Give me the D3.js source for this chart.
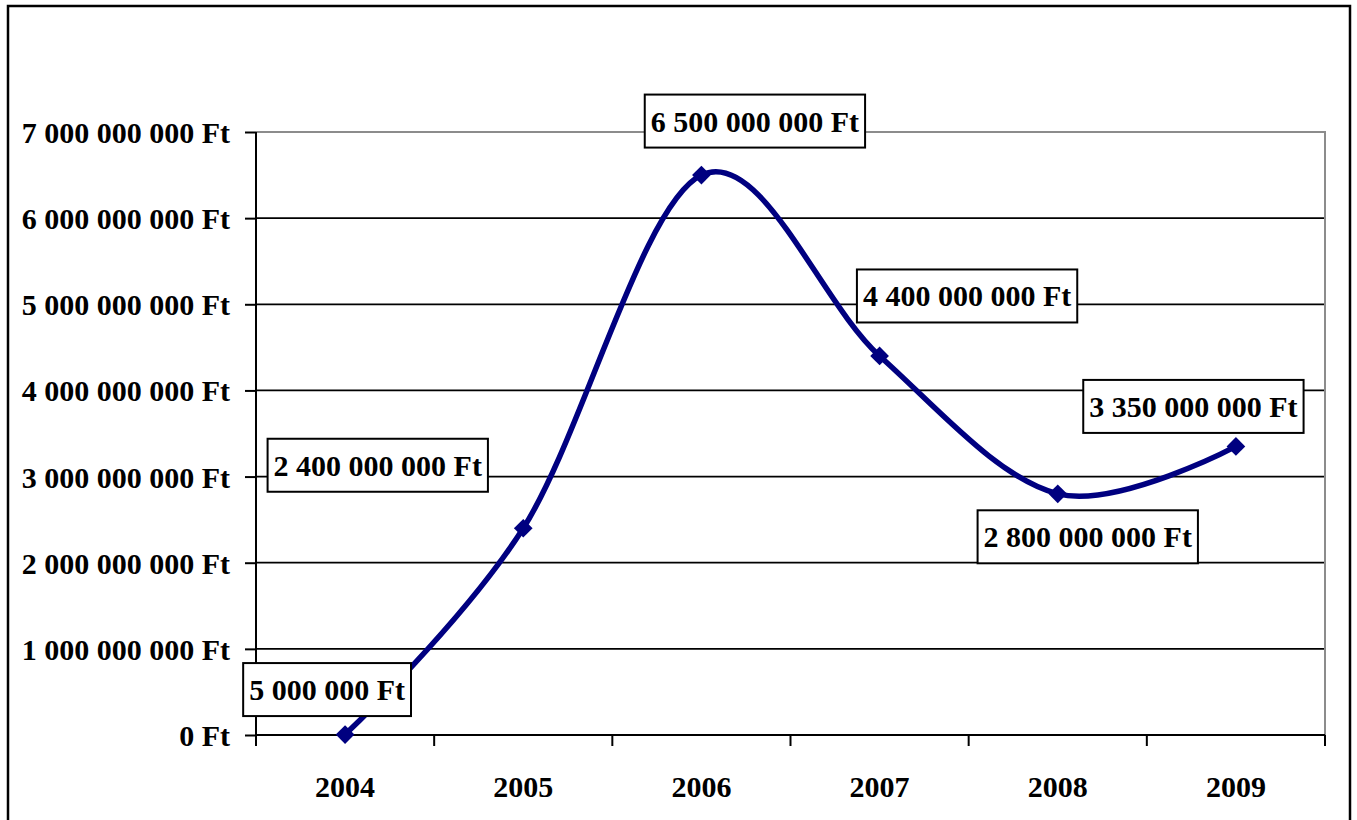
<!DOCTYPE html>
<html>
<head>
<meta charset="utf-8">
<script src="https://cdn.jsdelivr.net/npm/d3@7"></script>
<style>
html,body{margin:0;padding:0;background:#fff;}
svg text{font-family:"Liberation Serif","Times New Roman",serif;font-weight:bold;fill:#000;}
</style>
</head>
<body>
<svg id="chart" width="1357" height="820"></svg>
<script>
const years = ["2004","2005","2006","2007","2008","2009"];
const values = [5000000, 2400000000, 6500000000, 4400000000, 2800000000, 3350000000];
const yTicks = [0,1e9,2e9,3e9,4e9,5e9,6e9,7e9];
// label box offsets from the point (layout)
const labelDx = [-18, -145.5, 53.5, 87.5, 30, -42.5];
const labelDy = [-45, -63, -54, -60, 43, -40];

const svg = d3.select("#chart");
const plot = {left:256, right:1325, top:132, bottom:735};
const FS = 30;

const locale = d3.formatLocale({decimal:",", thousands:" ", grouping:[3], currency:["",""]});
const fmt = v => locale.format(",.0f")(v) + " Ft";

// outer border
svg.append("rect").attr("x",8).attr("y",6).attr("width",1342).attr("height",840)
  .attr("fill","#fff").attr("stroke","#000").attr("stroke-width",2.5);

const x = d3.scaleBand().domain(years).range([plot.left, plot.right]).padding(0);
const y = d3.scaleLinear().domain([0,7e9]).range([plot.bottom, plot.top]);

// gridlines
svg.append("g").selectAll("line").data(yTicks.filter(t=>t>0 && t<7e9)).join("line")
  .attr("x1",plot.left).attr("x2",plot.right)
  .attr("y1",d=>y(d)).attr("y2",d=>y(d))
  .attr("stroke","#000").attr("stroke-width",1.8);

// plot border top/right (gray)
svg.append("path")
  .attr("d",`M${plot.left},${plot.top}H${plot.right}V${plot.bottom}`)
  .attr("fill","none").attr("stroke","#8c8c8c").attr("stroke-width",2);

// y axis
const yAxis = d3.axisLeft(y).tickValues(yTicks).tickFormat(fmt).tickSize(11).tickPadding(15);
const gy = svg.append("g").attr("transform",`translate(${plot.left},0)`).call(yAxis);
gy.select(".domain").attr("stroke","#000").attr("stroke-width",2).attr("d",`M-0,${plot.top}V${plot.bottom}`);
gy.selectAll(".tick line").attr("stroke","#000").attr("stroke-width",2);
gy.selectAll(".tick text").attr("font-size",FS).attr("font-family","Liberation Serif").attr("font-weight","bold").attr("fill","#000").attr("dy","0.35em");

// x axis
const xAxis = d3.axisBottom(x).tickSize(0).tickPadding(41);
const gx = svg.append("g").attr("transform",`translate(0,${plot.bottom})`).call(xAxis);
gx.select(".domain").attr("stroke","#000").attr("stroke-width",2).attr("d",`M${plot.left},0H${plot.right}`);
gx.selectAll(".tick text").attr("font-size",FS).attr("font-family","Liberation Serif").attr("font-weight","bold").attr("fill","#000");
// x tick marks at category boundaries
const bounds = years.map(d=>x(d)).concat([x(years[years.length-1])+x.bandwidth()]);
svg.append("g").selectAll("line").data(bounds).join("line")
  .attr("x1",d=>d).attr("x2",d=>d).attr("y1",plot.bottom).attr("y2",plot.bottom+11)
  .attr("stroke","#000").attr("stroke-width",2);

const pts = years.map((yr,i)=>({yr, v:values[i], px:x(yr)+x.bandwidth()/2, py:y(values[i]), i}));

// line
const line = d3.line().x(d=>d.px).y(d=>d.py).curve(d3.curveCardinal.tension(0));
svg.append("path").datum(pts).attr("d",line)
  .attr("fill","none").attr("stroke","#000080").attr("stroke-width",5.5).attr("stroke-linejoin","round");

// markers
svg.append("g").selectAll("path").data(pts).join("path")
  .attr("d",d3.symbol().type(d3.symbolSquare).size(175))
  .attr("transform",d=>`translate(${d.px},${d.py}) rotate(45)`)
  .attr("fill","#000080");

// labels
const lg = svg.append("g").selectAll("g").data(pts).join("g")
  .attr("transform",d=>`translate(${d.px+labelDx[d.i]},${d.py+labelDy[d.i]})`);
lg.each(function(d){
  const g = d3.select(this);
  const t = g.append("text").text(fmt(d.v)).attr("text-anchor","middle").attr("dy","0.35em")
    .attr("font-size",FS);
  const bb = t.node().getBBox();
  const w = bb.width + 12, h = 53;
  g.insert("rect","text").attr("x",-w/2).attr("y",-h/2).attr("width",w).attr("height",h)
    .attr("fill","#fff").attr("stroke","#000").attr("stroke-width",2);
});
</script>
</body>
</html>
